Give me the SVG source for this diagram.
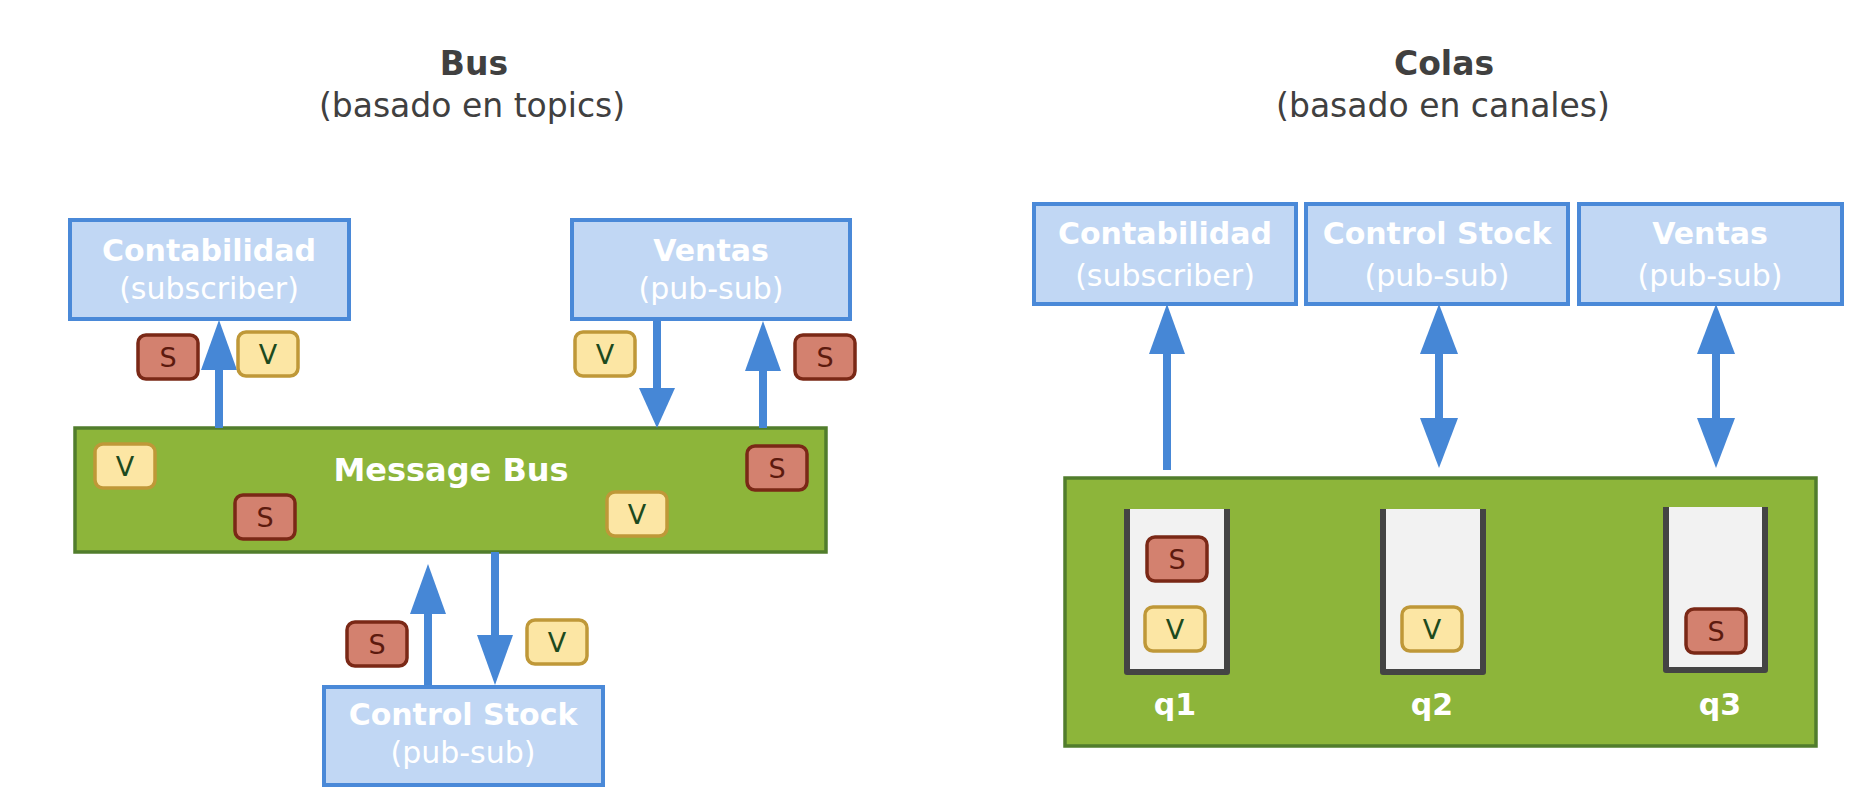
<svg xmlns="http://www.w3.org/2000/svg" width="1854" height="804" viewBox="0 0 1854 804">
<style>
text{font-family:"DejaVu Sans","Verdana",sans-serif;text-anchor:middle}
.title{font-size:33px;font-weight:bold;fill:#404040}
.sub{font-size:33px;fill:#404040}
.node{fill:#c1d7f4;stroke:#4a89d8;stroke-width:4}
.nt{font-size:30px;font-weight:bold;fill:#ffffff}
.ns{font-size:30px;fill:#ffffff}
.bus{fill:#8db53a;stroke:#517d2c;stroke-width:3.5}
.bt{font-size:32px;font-weight:bold;fill:#ffffff}
.qf{fill:#f2f2f2}
.qw{fill:none;stroke:#444444;stroke-width:6;stroke-linejoin:round}
.ql{font-size:30px;font-weight:bold;fill:#ffffff}
.sb{fill:#d3816f;stroke:#7a2816;stroke-width:3.5}
.vb{fill:#fce6a4;stroke:#bf9838;stroke-width:3.5}
.st{font-size:27px;fill:#5c1a0e}
.vt{font-size:27px;fill:#1d4a1d}
.shaft{stroke:#4687d6;stroke-width:8;fill:none}
.head{fill:#4687d6}
</style>
<defs>
<g id="S"><rect class="sb" x="-30" y="-22" width="60" height="44" rx="8"/><text class="st" x="0" y="10">S</text></g>
<g id="V"><rect class="vb" x="-30" y="-22" width="60" height="44" rx="8"/><text class="vt" x="0" y="10">V</text></g>
</defs>

<g id="titles">
<text class="title" x="474" y="75">Bus</text>
<text class="sub" x="472" y="117">(basado en topics)</text>
<text class="title" x="1444" y="75">Colas</text>
<text class="sub" x="1443" y="117">(basado en canales)</text>
</g>

<g id="message-bus">
<rect class="bus" x="75" y="428" width="751" height="124"/>
<text class="bt" x="451" y="481">Message Bus</text>
</g>

<g id="colas-box">
<rect class="bus" x="1065" y="478" width="751" height="268"/>
</g>

<g id="q1">
<rect class="qf" x="1127" y="509" width="100" height="163"/>
<path class="qw" d="M1127,509 V672 H1227 V509"/>
<text class="ql" x="1175" y="715">q1</text>
</g>
<g id="q2">
<rect class="qf" x="1383" y="509" width="100" height="163"/>
<path class="qw" d="M1383,509 V672 H1483 V509"/>
<text class="ql" x="1432" y="715">q2</text>
</g>
<g id="q3">
<rect class="qf" x="1666" y="507" width="99" height="163"/>
<path class="qw" d="M1666,507 V670 H1765 V507"/>
<text class="ql" x="1720" y="715">q3</text>
</g>

<g id="connectors">
<!-- left: Contabilidad up -->
<line class="shaft" x1="219" y1="428" x2="219" y2="360"/>
<polygon class="head" points="219,320 237,370 201,370"/>
<!-- Ventas down -->
<line class="shaft" x1="657" y1="320" x2="657" y2="392"/>
<polygon class="head" points="657,428 675,388 639,388"/>
<!-- Ventas up -->
<line class="shaft" x1="763" y1="428" x2="763" y2="360"/>
<polygon class="head" points="763,321 781,371 745,371"/>
<!-- Control Stock up -->
<line class="shaft" x1="428" y1="686" x2="428" y2="605"/>
<polygon class="head" points="428,564 446,614 410,614"/>
<!-- Control Stock down -->
<line class="shaft" x1="495" y1="552" x2="495" y2="640"/>
<polygon class="head" points="495,685 513,635 477,635"/>
<!-- right: Contabilidad up -->
<line class="shaft" x1="1167" y1="470" x2="1167" y2="345"/>
<polygon class="head" points="1167,304 1185,354 1149,354"/>
<!-- Control Stock double -->
<line class="shaft" x1="1439" y1="345" x2="1439" y2="425"/>
<polygon class="head" points="1439,304 1458,354 1420,354"/>
<polygon class="head" points="1439,468 1458,418 1420,418"/>
<!-- Ventas double -->
<line class="shaft" x1="1716" y1="345" x2="1716" y2="425"/>
<polygon class="head" points="1716,304 1735,354 1697,354"/>
<polygon class="head" points="1716,468 1735,418 1697,418"/>
</g>

<g id="contabilidad-bus">
<rect class="node" x="70" y="220" width="279" height="99"/>
<text class="nt" x="209" y="261">Contabilidad</text>
<text class="ns" x="209" y="299">(subscriber)</text>
</g>
<g id="ventas-bus">
<rect class="node" x="572" y="220" width="278" height="99"/>
<text class="nt" x="711" y="261">Ventas</text>
<text class="ns" x="711" y="299">(pub-sub)</text>
</g>
<g id="controlstock-bus">
<rect class="node" x="324" y="687" width="279" height="98"/>
<text class="nt" x="463" y="725">Control Stock</text>
<text class="ns" x="463" y="763">(pub-sub)</text>
</g>

<g id="contabilidad-colas">
<rect class="node" x="1034" y="204" width="262" height="100"/>
<text class="nt" x="1165" y="244">Contabilidad</text>
<text class="ns" x="1165" y="286">(subscriber)</text>
</g>
<g id="controlstock-colas">
<rect class="node" x="1306" y="204" width="262" height="100"/>
<text class="nt" x="1437" y="244">Control Stock</text>
<text class="ns" x="1437" y="286">(pub-sub)</text>
</g>
<g id="ventas-colas">
<rect class="node" x="1579" y="204" width="263" height="100"/>
<text class="nt" x="1710" y="244">Ventas</text>
<text class="ns" x="1710" y="286">(pub-sub)</text>
</g>

<g id="badges">
<use href="#S" x="168" y="357"/>
<use href="#V" x="268" y="354"/>
<use href="#V" x="605" y="354"/>
<use href="#S" x="825" y="357"/>
<use href="#V" x="125" y="466"/>
<use href="#S" x="265" y="517"/>
<use href="#V" x="637" y="514"/>
<use href="#S" x="777" y="468"/>
<use href="#S" x="377" y="644"/>
<use href="#V" x="557" y="642"/>
<use href="#S" x="1177" y="559"/>
<use href="#V" x="1175" y="629"/>
<use href="#V" x="1432" y="629"/>
<use href="#S" x="1716" y="631"/>
</g>
</svg>
